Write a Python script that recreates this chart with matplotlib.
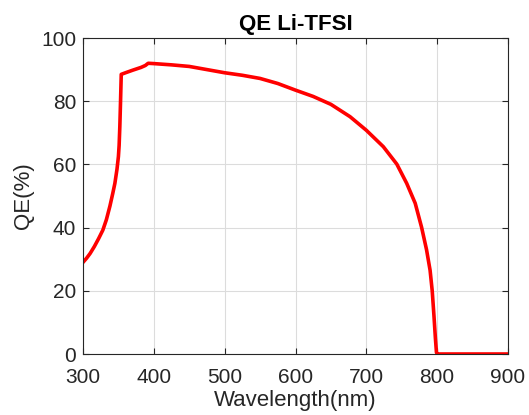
import numpy as np
import matplotlib.pyplot as plt

plt.rcParams['font.family'] = ['Liberation Sans', 'DejaVu Sans']

wavelength = [300, 305, 310, 316, 322, 328, 333, 338, 342, 345, 348, 350, 351, 352, 353,
              354, 360, 370, 382, 388, 392, 400, 425, 450, 465, 500, 525, 550, 575, 600,
              625, 650, 677, 700, 724, 743, 757, 769, 778, 785, 790, 793, 795.5, 797.5,
              799, 800, 900]
qe = [29.0, 30.3, 31.8, 34.0, 36.5, 39.2, 42.5, 46.8, 50.8, 54.0, 58.5, 62.5, 66.0, 72.0, 80.0,
      88.5, 89.0, 89.8, 90.7, 91.3, 92.0, 91.9, 91.5, 91.0, 90.4, 89.0, 88.2, 87.2, 85.6, 83.5,
      81.5, 79.0, 75.1, 70.8, 65.6, 60.1, 54.0, 47.7, 40.1, 33.0, 26.5, 20.0, 12.0, 5.0,
      0.5, 0.0, 0.0]

fig = plt.figure(figsize=(5.29, 4.15), dpi=100)
ax = fig.add_axes([83/529, 1-354/415, 425/529, 316/415])

ax.plot(wavelength, qe, color='red', linewidth=2.6, solid_joinstyle='round')
ax.set_xlim(300, 900)
ax.set_ylim(0, 100)
ax.set_xticks(np.arange(300, 901, 100))
ax.set_yticks(np.arange(0, 101, 20))
ax.grid(True, color='#dcdcdc', linewidth=0.8)
ax.set_axisbelow(True)

for s in ax.spines.values():
    s.set_color('#262626')
    s.set_linewidth(0.8)
ax.tick_params(direction='in', length=4, width=0.8, colors='#262626',
               labelsize=15, top=True, right=True, labeltop=False, labelright=False)
ax.tick_params(axis='x', pad=10)
ax.tick_params(axis='y', pad=5)

ax.set_title('QE Li-TFSI', fontsize=16, fontweight='bold', color='black', pad=6)
ax.set_xlabel('Wavelength(nm)', fontsize=16, color='#262626', labelpad=2)
ax.set_ylabel('QE(%)', fontsize=16, color='#262626', labelpad=5)

fig.savefig('out.png', dpi=100)
